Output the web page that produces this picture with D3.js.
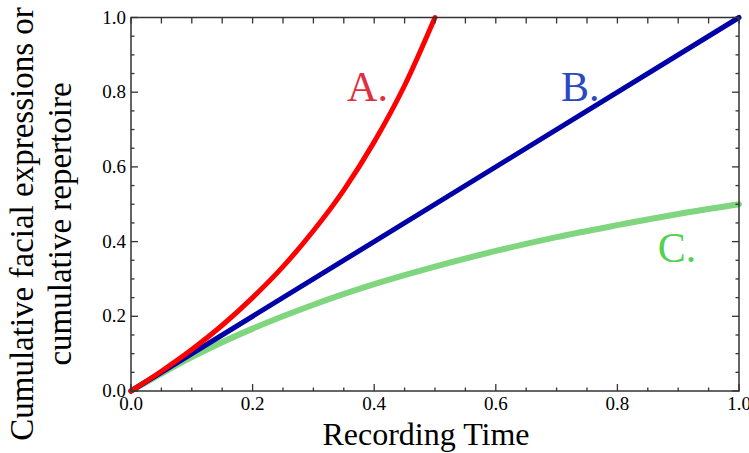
<!doctype html>
<html lang="en">
<head>
  <meta charset="UTF-8">
  <title>Cumulative repertoire</title>
  <script src="https://d3js.org/d3.v7.min.js" charset="utf-8"></script>
  <style>
    body { margin: 0; background: #fff; }
    text { font-family: "Liberation Serif", "Times New Roman", serif; }
  </style>
</head>
<body>
  <script>

    // values
    var timeA  = [0, 0.05, 0.1, 0.15, 0.2, 0.25, 0.3, 0.35, 0.4, 0.45, 0.5]
      , valueA = [0, 0.053, 0.111, 0.176, 0.25, 0.333, 0.429, 0.538, 0.667, 0.818, 1.0]
      , timeB  = [0, 1]
      , valueB = [0, 1]
      , timeC  = [0, 0.1, 0.2, 0.3, 0.4, 0.5, 0.6, 0.7, 0.8, 0.9, 1.0]
      , valueC = [0, 0.091, 0.167, 0.231, 0.286, 0.333, 0.375, 0.412, 0.444, 0.474, 0.5]
      , majorTicks = [0, 0.2, 0.4, 0.6, 0.8, 1.0]
      , minorTicks = d3.range(0, 1.0001, 0.05)
      ;

    var width = 749
      , height = 453
      , plotLeft = 131
      , plotRight = 739
      , plotTop = 17.5
      , plotBottom = 391
      ;

    var x = d3.scaleLinear().domain([0, 1]).range([plotLeft, plotRight]);
    var y = d3.scaleLinear().domain([0, 1]).range([plotBottom, plotTop]);

    var svg = d3.select("body").append("svg")
                .attr("width", width)
                .attr("height", height);

    var series = [
      { xs: timeC, ys: valueC, color: "#7fd67f", w: 6 },
      { xs: timeB, ys: valueB, color: "#0000a8", w: 5 },
      { xs: timeA, ys: valueA, color: "#ff0000", w: 5 }
    ];

    var line = d3.line()
                 .x(function(d) { return x(d[0]); })
                 .y(function(d) { return y(d[1]); })
                 .curve(d3.curveMonotoneX);

    svg.selectAll("path.curve")
       .data(series)
       .enter()
       .append("path")
       .attr("class", "curve")
       .attr("d", function(s) { return line(d3.zip(s.xs, s.ys)); })
       .attr("fill", "none")
       .attr("stroke", function(s) { return s.color; })
       .attr("stroke-width", function(s) { return s.w; })
       .attr("stroke-linecap", "round");

    // frame with inward ticks
    function isMajor(v) {
      return majorTicks.some(function(m) { return Math.abs(m - v) < 1e-6; });
    }

    var axisColor = "#333";

    svg.append("rect")
       .attr("x", plotLeft).attr("y", plotTop)
       .attr("width", plotRight - plotLeft).attr("height", plotBottom - plotTop)
       .attr("fill", "none")
       .attr("stroke", axisColor)
       .attr("stroke-width", 1.5);

    var tickLen = function(v) { return isMajor(v) ? 7 : 3.5; };

    var ticks = svg.append("g").attr("stroke", axisColor).attr("stroke-width", 1.3);

    ticks.selectAll("line.b").data(minorTicks).enter().append("line")
         .attr("x1", function(d) { return x(d); }).attr("x2", function(d) { return x(d); })
         .attr("y1", plotBottom).attr("y2", function(d) { return plotBottom - tickLen(d); });

    ticks.selectAll("line.t").data(minorTicks).enter().append("line")
         .attr("x1", function(d) { return x(d); }).attr("x2", function(d) { return x(d); })
         .attr("y1", plotTop).attr("y2", plotTop + 6);

    ticks.selectAll("line.l").data(minorTicks).enter().append("line")
         .attr("y1", function(d) { return y(d); }).attr("y2", function(d) { return y(d); })
         .attr("x1", plotLeft).attr("x2", function(d) { return plotLeft + tickLen(d); });

    ticks.selectAll("line.r").data(minorTicks).enter().append("line")
         .attr("y1", function(d) { return y(d); }).attr("y2", function(d) { return y(d); })
         .attr("x1", plotRight).attr("x2", function(d) { return plotRight - tickLen(d); });

    // tick labels
    svg.selectAll("text.xt").data(majorTicks).enter().append("text")
       .attr("x", function(d) { return x(d); })
       .attr("y", 410)
       .attr("text-anchor", "middle")
       .attr("font-size", 19)
       .text(function(d) { return d.toFixed(1); });

    svg.selectAll("text.yt").data(majorTicks).enter().append("text")
       .attr("x", plotLeft - 5)
       .attr("y", function(d) { return y(d) + 6; })
       .attr("text-anchor", "end")
       .attr("font-size", 19)
       .text(function(d) { return d.toFixed(1); });

    // axis titles
    svg.append("text")
       .attr("x", (plotLeft + plotRight) / 2 - 9)
       .attr("y", 445)
       .attr("text-anchor", "middle")
       .attr("font-size", 32)
       .text("Recording Time");

    var yTitle = svg.append("text")
       .attr("transform", "translate(0,224) rotate(-90)")
       .attr("text-anchor", "middle")
       .attr("font-size", 33);
    yTitle.append("tspan").attr("x", 0).attr("y", 33).text("Cumulative facial expressions or");
    yTitle.append("tspan").attr("x", 0).attr("y", 71).text("cumulative repertoire");

    // curve labels
    var labels = [
      { t: "A.", px: 0.389, py: 0.776, color: "#e03040" },
      { t: "B.", px: 0.739, py: 0.776, color: "#2a48c0" },
      { t: "C.", px: 0.898, py: 0.345, color: "#55d055" }
    ];

    svg.selectAll("text.lab").data(labels).enter().append("text")
       .attr("x", function(d) { return x(d.px); })
       .attr("y", function(d) { return y(d.py); })
       .attr("text-anchor", "middle")
       .attr("font-size", 42)
       .attr("fill", function(d) { return d.color; })
       .text(function(d) { return d.t; });

  </script>
</body>
</html>
